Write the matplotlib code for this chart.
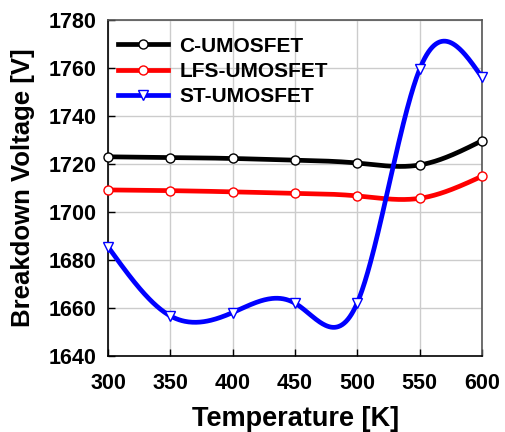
import numpy as np
import matplotlib
matplotlib.use("Agg")
import matplotlib.pyplot as plt

temps = [300, 350, 400, 450, 500, 550, 600]
c_umosfet = [1723.0, 1722.7, 1722.3, 1721.6, 1720.4, 1719.6, 1729.7]
lfs_umosfet = [1709.2, 1708.9, 1708.4, 1707.8, 1706.7, 1705.7, 1714.9]
st_umosfet = [1685.5, 1656.7, 1658.1, 1662.0, 1662.2, 1759.5, 1756.1]


def natural_spline(x, y, xs):
    x = np.asarray(x, float); y = np.asarray(y, float)
    n = len(x)
    h = np.diff(x)
    A = np.zeros((n, n)); b = np.zeros(n)
    A[0, 0] = 1; A[-1, -1] = 1
    for i in range(1, n - 1):
        A[i, i - 1] = h[i - 1]
        A[i, i] = 2 * (h[i - 1] + h[i])
        A[i, i + 1] = h[i]
        b[i] = 6 * ((y[i + 1] - y[i]) / h[i] - (y[i] - y[i - 1]) / h[i - 1])
    M = np.linalg.solve(A, b)
    idx = np.clip(np.searchsorted(x, xs) - 1, 0, n - 2)
    x0 = x[idx]; x1 = x[idx + 1]; hh = x1 - x0
    t0 = x1 - xs; t1 = xs - x0
    return (M[idx] * t0**3 / (6 * hh) + M[idx + 1] * t1**3 / (6 * hh)
            + (y[idx] / hh - M[idx] * hh / 6) * t0
            + (y[idx + 1] / hh - M[idx + 1] * hh / 6) * t1)


plt.rcParams['font.family'] = ['Liberation Sans', 'DejaVu Sans']
plt.rcParams['font.weight'] = 'bold'

fig = plt.figure(figsize=(5.05, 4.32), dpi=100)
ax = fig.add_axes([108 / 505, 1 - 356 / 432, (482 - 108) / 505, (356 - 20) / 432])

xs = np.linspace(300, 600, 400)
series = [
    ("C-UMOSFET", c_umosfet, "black", "o", 6.5),
    ("LFS-UMOSFET", lfs_umosfet, "#ff0000", "o", 6.5),
    ("ST-UMOSFET", st_umosfet, "#0000ff", "v", 6.5),
]
for label, ys, col, mk, ms in series:
    ax.plot(xs, natural_spline(temps, ys, xs), color=col, lw=3.4, zorder=3)
    ax.plot(temps, ys, ls='none', marker=mk, ms=ms, mfc='white', mec=col,
            mew=1.0, zorder=4, clip_on=False)
    ax.plot([], [], color=col, lw=3.4, marker=mk, ms=ms, mfc='white',
            mec=col, mew=1.0, label=label)

ax.set_xlim(300, 600)
ax.set_ylim(1640, 1780)
ax.set_xticks(range(300, 601, 50))
ax.set_yticks(range(1640, 1781, 20))
ax.grid(True, color='#cccccc', lw=1.0, zorder=0)
ax.tick_params(direction='in', length=5, width=1, labelsize=15.5)
ax.tick_params(axis='x', pad=12)
ax.tick_params(axis='y', pad=8.5)
for lab in ax.get_xticklabels() + ax.get_yticklabels():
    lab.set_fontweight('bold')
ax.spines['left'].set_color('black')
ax.spines['bottom'].set_color('black')
ax.spines['top'].set_color('#555555')
ax.spines['right'].set_color('#555555')
for s in ax.spines.values():
    s.set_linewidth(1.2)

ax.set_xlabel("Temperature [K]", fontsize=19.5, fontweight='bold')
ax.set_ylabel("Breakdown Voltage [V]", fontsize=18.5, fontweight='bold')
ax.xaxis.label.set_va('center')
ax.xaxis.set_label_coords((296 - 108) / 374, -(419 - 356) / 336)
ax.yaxis.set_label_coords(-(108 - 23) / 374, 0.5)
ax.yaxis.label.set_va('center')

leg = ax.legend(loc='upper left', frameon=False, fontsize=15, handlelength=2.4,
                borderaxespad=0.0, labelspacing=0.3, handletextpad=0.55,
                bbox_to_anchor=(0.0045, 0.975))
for t in leg.get_texts():
    t.set_fontweight('bold')

fig.savefig("out.png", dpi=100)
